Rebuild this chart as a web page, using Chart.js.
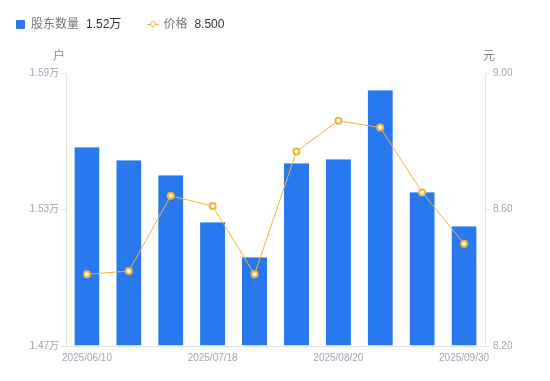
<!DOCTYPE html>
<html>
<head>
<meta charset="utf-8">
<script src="https://cdn.jsdelivr.net/npm/chart.js@4"></script>
<style>
  body { margin: 0; width: 550px; height: 381px; position: relative; font-family: "Liberation Sans", "Noto Sans CJK SC", sans-serif; background: #fff; }
  #wrap { position: absolute; left: 0; top: 0; width: 550px; height: 381px; }
  .legend { position: absolute; top: 16px; left: 16px; font-size: 12px; line-height: 16px; display: flex; align-items: center; }
  .legend .sw { display: inline-block; width: 9px; height: 9px; background: #2878F0; border-radius: 1px; margin-right: 6px; }
  .legend .ln { display: inline-block; position: relative; width: 12px; height: 9px; margin-right: 4px; }
  .legend .ln:before { content: ""; position: absolute; left: 0; right: 0; top: 4px; height: 1px; background: #F5B335; }
  .legend .ln:after { content: ""; position: absolute; left: 3px; top: 1px; width: 4px; height: 4px; border: 1.5px solid #F5B335; border-radius: 50%; background: #fff; }
  .legend .lb { color: #777; margin-right: 7px; }
  .legend .val { color: #333; margin-right: 26px; }
</style>
</head>
<body>
<div id="wrap"><canvas id="chart" width="550" height="381"></canvas></div>
<div class="legend">
  <span class="sw"></span><span class="lb">股东数量</span><span class="val">1.52万</span>
  <span class="ln"></span><span class="lb">价格</span><span class="val">8.500</span>
</div>
<script>
var dates = ["2025/06/10", "2025/06/20", "2025/06/30", "2025/07/18", "2025/07/31", "2025/08/10", "2025/08/20", "2025/08/31", "2025/09/10", "2025/09/30"];
var holders = [1.5575, 1.5518, 1.5452, 1.5245, 1.5091, 1.5504, 1.5522, 1.5825, 1.5377, 1.5227];
var prices = [8.41, 8.42, 8.64, 8.61, 8.41, 8.77, 8.86, 8.84, 8.65, 8.50];
var holderTicks = [1.47, 1.53, 1.59];
var priceTicks = [8.20, 8.60, 9.00];

var tickColor = '#a3a6b4';
var lineColor = '#e3e3e8';

var unitLabels = {
  id: 'unitLabels',
  afterDraw: function(chart) {
    var ctx = chart.ctx;
    ctx.save();
    ctx.font = '12px "Liberation Sans", "Noto Sans CJK SC", sans-serif';
    ctx.fillStyle = '#888';
    ctx.textAlign = 'center';
    ctx.textBaseline = 'middle';
    ctx.fillText('户', chart.scales.y.right - 7, 57);
    ctx.fillText('元', chart.scales.y1.left + 4, 57);
    ctx.restore();
  }
};

Chart.defaults.font.family = '"Liberation Sans", "Noto Sans CJK SC", sans-serif';

new Chart(document.getElementById('chart'), {
  type: 'bar',
  data: {
    labels: dates,
    datasets: [
      {
        type: 'line',
        label: '价格',
        data: prices,
        yAxisID: 'y1',
        borderColor: '#F5B335',
        borderWidth: 1,
        pointRadius: 3,
        pointBorderWidth: 2,
        pointBackgroundColor: '#fff',
        pointBorderColor: '#F5B335',
        tension: 0,
        order: 0
      },
      {
        label: '股东数量',
        data: holders,
        yAxisID: 'y',
        backgroundColor: '#2878F0',
        borderColor: '#7fb0f7',
        borderWidth: { top: 1, left: 0, right: 0, bottom: 0 },
        borderSkipped: 'bottom',
        categoryPercentage: 0.6,
        barPercentage: 1,
        base: 1.47,
        order: 1
      }
    ]
  },
  options: {
    responsive: false,
    animation: false,
    layout: { padding: { top: 73, left: 0, right: 0, bottom: 0 } },
    plugins: { legend: { display: false }, tooltip: { enabled: false } },
    scales: {
      x: {
        grid: { display: false, drawTicks: false },
        border: { display: true, color: lineColor },
        ticks: {
          autoSkip: false,
          maxRotation: 0,
          color: tickColor,
          font: { size: 10 },
          padding: 6,
          callback: function(v, i) { return i % 3 === 0 ? dates[i] : ''; }
        },
        afterFit: function(s) { s.height = 35; }
      },
      y: {
        position: 'left',
        min: holderTicks[0],
        max: holderTicks[2],
        afterBuildTicks: function(s) { s.ticks = holderTicks.map(function(v) { return { value: v }; }); },
        grid: { drawOnChartArea: false, color: lineColor, tickLength: 5 },
        border: { color: lineColor },
        ticks: {
          color: tickColor,
          font: { size: 10 },
          padding: 2,
          callback: function(v) { return v.toFixed(2) + '万'; }
        },
        afterFit: function(s) { s.width = 66; }
      },
      y1: {
        position: 'right',
        min: priceTicks[0],
        max: priceTicks[2],
        afterBuildTicks: function(s) { s.ticks = priceTicks.map(function(v) { return { value: v }; }); },
        grid: { drawOnChartArea: false, color: lineColor, tickLength: 5 },
        border: { color: lineColor },
        ticks: {
          color: tickColor,
          font: { size: 10 },
          padding: 3,
          callback: function(v) { return v.toFixed(2); }
        },
        afterFit: function(s) { s.width = 65; }
      }
    }
  },
  plugins: [unitLabels]
});
</script>
</body>
</html>
